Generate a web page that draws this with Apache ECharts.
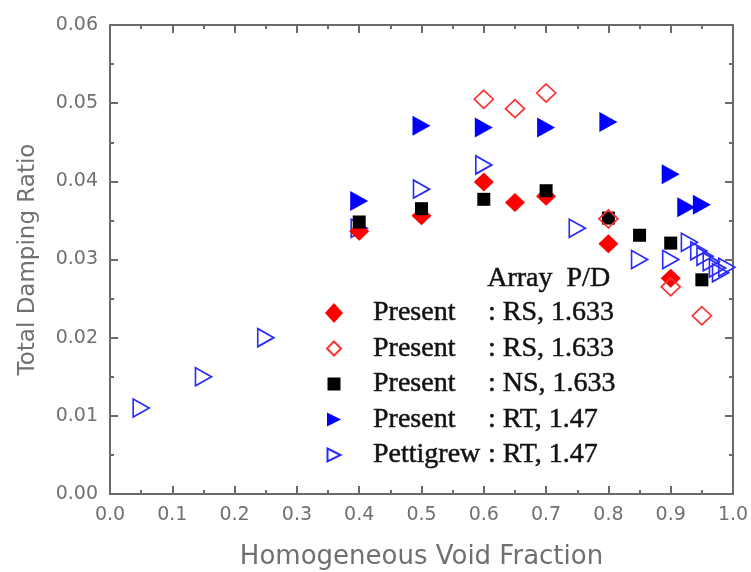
<!DOCTYPE html>
<html>
<head>
<meta charset="utf-8">
<script src="https://cdn.jsdelivr.net/npm/echarts@6/dist/echarts.min.js"></script>
<style>html,body{margin:0;padding:0;background:#fff;}#c{width:751px;height:572px;}</style>
</head>
<body>
<div id="c"></div>
<script>
// ---- data ----
var xTicks = [0.0,0.1,0.2,0.3,0.4,0.5,0.6,0.7,0.8,0.9,1.0];
var yTicks = [0.00,0.01,0.02,0.03,0.04,0.05,0.06];

var rsFilledX = [0.4, 0.5, 0.6, 0.65, 0.7, 0.8, 0.9];
var rsFilledY = [0.0336, 0.0356, 0.0399, 0.0373, 0.0381, 0.0320, 0.0276];

var rsHollowX = [0.6, 0.65, 0.7, 0.8, 0.9, 0.95];
var rsHollowY = [0.0505, 0.0493, 0.0513, 0.0352, 0.0265, 0.0228];

var nsX = [0.4, 0.5, 0.6, 0.7, 0.8, 0.85, 0.9, 0.95];
var nsY = [0.0348, 0.0365, 0.0377, 0.0388, 0.0353, 0.0331, 0.0321, 0.0274];

var rtX = [0.4, 0.5, 0.6, 0.7, 0.8, 0.9, 0.925, 0.95];
var rtY = [0.0375, 0.0471, 0.0469, 0.0469, 0.0476, 0.0409, 0.0367, 0.0370];

var petX = [0.05, 0.15, 0.25, 0.4, 0.5, 0.6, 0.75, 0.85, 0.9, 0.93, 0.945, 0.955, 0.965, 0.975, 0.98, 0.99];
var petY = [0.0110, 0.0150, 0.0200, 0.0340, 0.0390, 0.0421, 0.0340, 0.0300, 0.0300, 0.0322, 0.0311, 0.0304, 0.0297, 0.0289, 0.0283, 0.0290];

var legendNames = ['Present', 'Present', 'Present', 'Present', 'Pettigrew'];
var legendArrays = [': RS, 1.633', ': RS, 1.633', ': NS, 1.633', ': RT, 1.47', ': RT, 1.47'];
var legendHeader = 'Array  P/D';

// ---- helpers ----
function pairs(xs, ys) { return xs.map(function (x, i) { return [x, ys[i]]; }); }
var triRight = 'path://M0,0L18,10L0,20Z';
var axisGray = '#6a6a6a';
var labelGray = '#707070';
var sansFont = 'DejaVu Sans';
var serifFont = 'Liberation Serif';
var seriesKeys = ['s1', 's2', 's3', 's4', 's5'];
// legend icons (padded inside a 20x20 box so that each keeps its own size)
var legendIcons = [
  'path://M0,0M20,20M10,0L19,10L10,20L1,10Z',
  'path://M0,0M20,20M10,3L17,10L10,17L3,10Z',
  'path://M0,0M20,20M3.5,3.5L16.5,3.5L16.5,16.5L3.5,16.5Z',
  'path://M0,0M20,20M3,3L17,10L3,17Z',
  'path://M0,0M20,20M3.5,3.5L16.5,10L3.5,16.5Z'
];

function axisCommon(show) {
  return {
    axisLine: { show: true, onZero: false, lineStyle: { color: axisGray, width: 2 } },
    axisTick: { show: true, inside: true, length: 8, lineStyle: { color: axisGray, width: 2 } },
    minorTick: { show: true, splitNumber: 2, length: 4, lineStyle: { color: axisGray, width: 2 } },
    splitLine: { show: false },
    axisLabel: { show: show }
  };
}

var chart = echarts.init(document.getElementById('c'), null, { renderer: 'canvas' });
var option = {
  backgroundColor: '#ffffff',
  animation: false,
  grid: { left: 110, right: 18, top: 25, bottom: 78, containLabel: false, outerBoundsMode: 'none' },
  xAxis: [
    Object.assign(axisCommon(true), {
      type: 'value', min: 0, max: 1, interval: 0.1, position: 'bottom',
      name: 'Homogeneous Void Fraction', nameLocation: 'middle', nameGap: 50,
      nameTextStyle: { fontFamily: sansFont, fontSize: 26, color: labelGray },
      axisLabel: { show: true, margin: 12, fontFamily: sansFont, fontSize: 19, color: labelGray,
        formatter: function (v) { return v.toFixed(1); } }
    }),
    Object.assign(axisCommon(false), { type: 'value', min: 0, max: 1, interval: 0.1, position: 'top' })
  ],
  yAxis: [
    Object.assign(axisCommon(true), {
      type: 'value', min: 0, max: 0.06, interval: 0.01, position: 'left',
      name: 'Total Damping Ratio', nameLocation: 'middle', nameGap: 70,
      nameTextStyle: { fontFamily: sansFont, fontSize: 23, color: labelGray },
      axisLabel: { show: true, margin: 12, fontFamily: sansFont, fontSize: 19, color: labelGray,
        formatter: function (v) { return v.toFixed(2); } }
    }),
    Object.assign(axisCommon(false), { type: 'value', min: 0, max: 0.06, interval: 0.01, position: 'right' })
  ],
  legend: {
    orient: 'vertical', left: 323, top: 298, padding: 0, itemGap: 5.5,
    itemWidth: 20, itemHeight: 20,
    data: seriesKeys.map(function (k, i) { return { name: k, icon: legendIcons[i] }; }),
    formatter: function (name) {
      var i = seriesKeys.indexOf(name);
      return '{p|}{a|' + legendNames[i] + '}{b|' + legendArrays[i] + '}';
    },
    textStyle: {
      fontFamily: serifFont, fontSize: 28, color: '#111', lineHeight: 30,
      rich: {
        p: { width: 24 },
        a: { width: 115, fontFamily: serifFont, fontSize: 28, color: '#111', textBorderColor: '#222', textBorderWidth: 0.5 },
        b: { fontFamily: serifFont, fontSize: 28, color: '#111', textBorderColor: '#222', textBorderWidth: 0.5 }
      }
    }
  },
  graphic: [{
    type: 'text', left: 487, top: 264,
    style: { text: legendHeader, font: '28px "Liberation Serif"', fill: '#111', stroke: '#222', lineWidth: 0.5 }
  }],
  series: [
    { name: 's5', type: 'scatter', data: pairs(petX, petY), symbol: triRight, symbolSize: [16, 18],
      itemStyle: { color: 'transparent', borderColor: '#2a2aff', borderWidth: 1.7, opacity: 1 } },
    { name: 's1', type: 'scatter', data: pairs(rsFilledX, rsFilledY), symbol: 'diamond', symbolSize: [20, 19],
      itemStyle: { color: '#ff0000', opacity: 1 } },
    { name: 's3', type: 'scatter', data: pairs(nsX, nsY), symbol: 'rect', symbolSize: 13,
      itemStyle: { color: '#000000', opacity: 1 } },
    { name: 's2', type: 'scatter', data: pairs(rsHollowX, rsHollowY), symbol: 'diamond', symbolSize: [19, 18],
      itemStyle: { color: 'transparent', borderColor: '#ff3030', borderWidth: 1.7, opacity: 1 } },
    { name: 's4', type: 'scatter', data: pairs(rtX, rtY), symbol: triRight, symbolSize: [18, 20],
      itemStyle: { color: '#0000ff', opacity: 1 } }
  ]
};
chart.setOption(option);
</script>
</body>
</html>
